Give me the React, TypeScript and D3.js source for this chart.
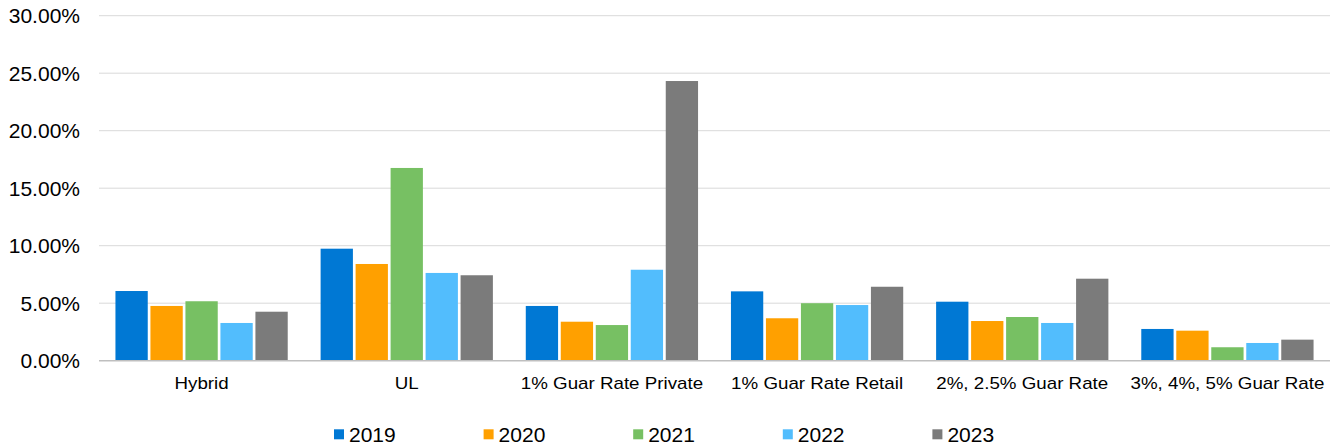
import React from "react";
import * as d3 from "d3";

const categories = [
  "Hybrid",
  "UL",
  "1% Guar Rate Private",
  "1% Guar Rate Retail",
  "2%, 2.5% Guar Rate",
  "3%, 4%, 5% Guar Rate",
];
const years = ["2019", "2020", "2021", "2022", "2023"];
const values2019 = [6.06, 9.74, 4.76, 6.03, 5.13, 2.76];
const values2020 = [4.76, 8.41, 3.39, 3.69, 3.45, 2.61];
const values2021 = [5.17, 16.76, 3.1, 5.0, 3.8, 1.17];
const values2022 = [3.28, 7.63, 7.91, 4.84, 3.28, 1.54];
const values2023 = [4.26, 7.43, 24.32, 6.43, 7.13, 1.83];
const yTicks = [0, 5, 10, 15, 20, 25, 30];
const colors = ["#0078D4", "#FFA000", "#77C063", "#52BDFD", "#7B7B7B"];

const series = [values2019, values2020, values2021, values2022, values2023];

const W = 1335;
const H = 447;
const left = 99;
const right = 1330;
const top = 15.7;
const bottom = 360.7;
const font = "'Liberation Sans', Arial, sans-serif";

export default function App() {
  const y = d3.scaleLinear().domain([0, 30]).range([bottom, top]);
  const x0 = d3.scaleBand<string>().domain(categories).range([left, right]);
  const x1 = d3
    .scaleBand<string>()
    .domain(years)
    .range([0, x0.bandwidth()])
    .paddingInner(0.077)
    .paddingOuter(0.47);
  const fmt = (v: number) => v.toFixed(2) + "%";

  return (
    <div style={{ position: "absolute", left: 0, top: 0 }}>
      <svg width={W} height={H} style={{ display: "block", background: "#fff" }}>
        {yTicks.map((t) => (
          <g key={t}>
            {t !== 0 && (
              <line x1={left} x2={right} y1={y(t)} y2={y(t)} stroke="#d9d9d9" strokeWidth={1} />
            )}
            <text
              x={80}
              y={y(t) + 7.5}
              textAnchor="end"
              fontFamily={font}
              fontSize={21}
              fill="#000"
            >
              {fmt(t)}
            </text>
          </g>
        ))}
        {categories.map((c, ci) => (
          <g key={c}>
            {series.map((vals, si) => (
              <rect
                key={si}
                x={(x0(c) as number) + (x1(years[si]) as number)}
                y={y(vals[ci])}
                width={x1.bandwidth()}
                height={bottom - y(vals[ci])}
                fill={colors[si]}
              />
            ))}
            <text
              transform={`translate(${(x0(c) as number) + x0.bandwidth() / 2},389) scale(1.13,1)`}
              textAnchor="middle"
              fontFamily={font}
              fontSize={16.6}
              fill="#000"
            >
              {c}
            </text>
          </g>
        ))}
        <line x1={left} x2={right} y1={bottom} y2={bottom} stroke="#bfbfbf" strokeWidth={1.5} />
        {years.map((yr, i) => {
          const lx = 334 + i * 149.6;
          return (
            <g key={yr}>
              <rect x={lx} y={429.3} width={10} height={10} fill={colors[i]} />
              <text x={lx + 15} y={441.7} fontFamily={font} fontSize={21} fill="#000">
                {yr}
              </text>
            </g>
          );
        })}
      </svg>
    </div>
  );
}
